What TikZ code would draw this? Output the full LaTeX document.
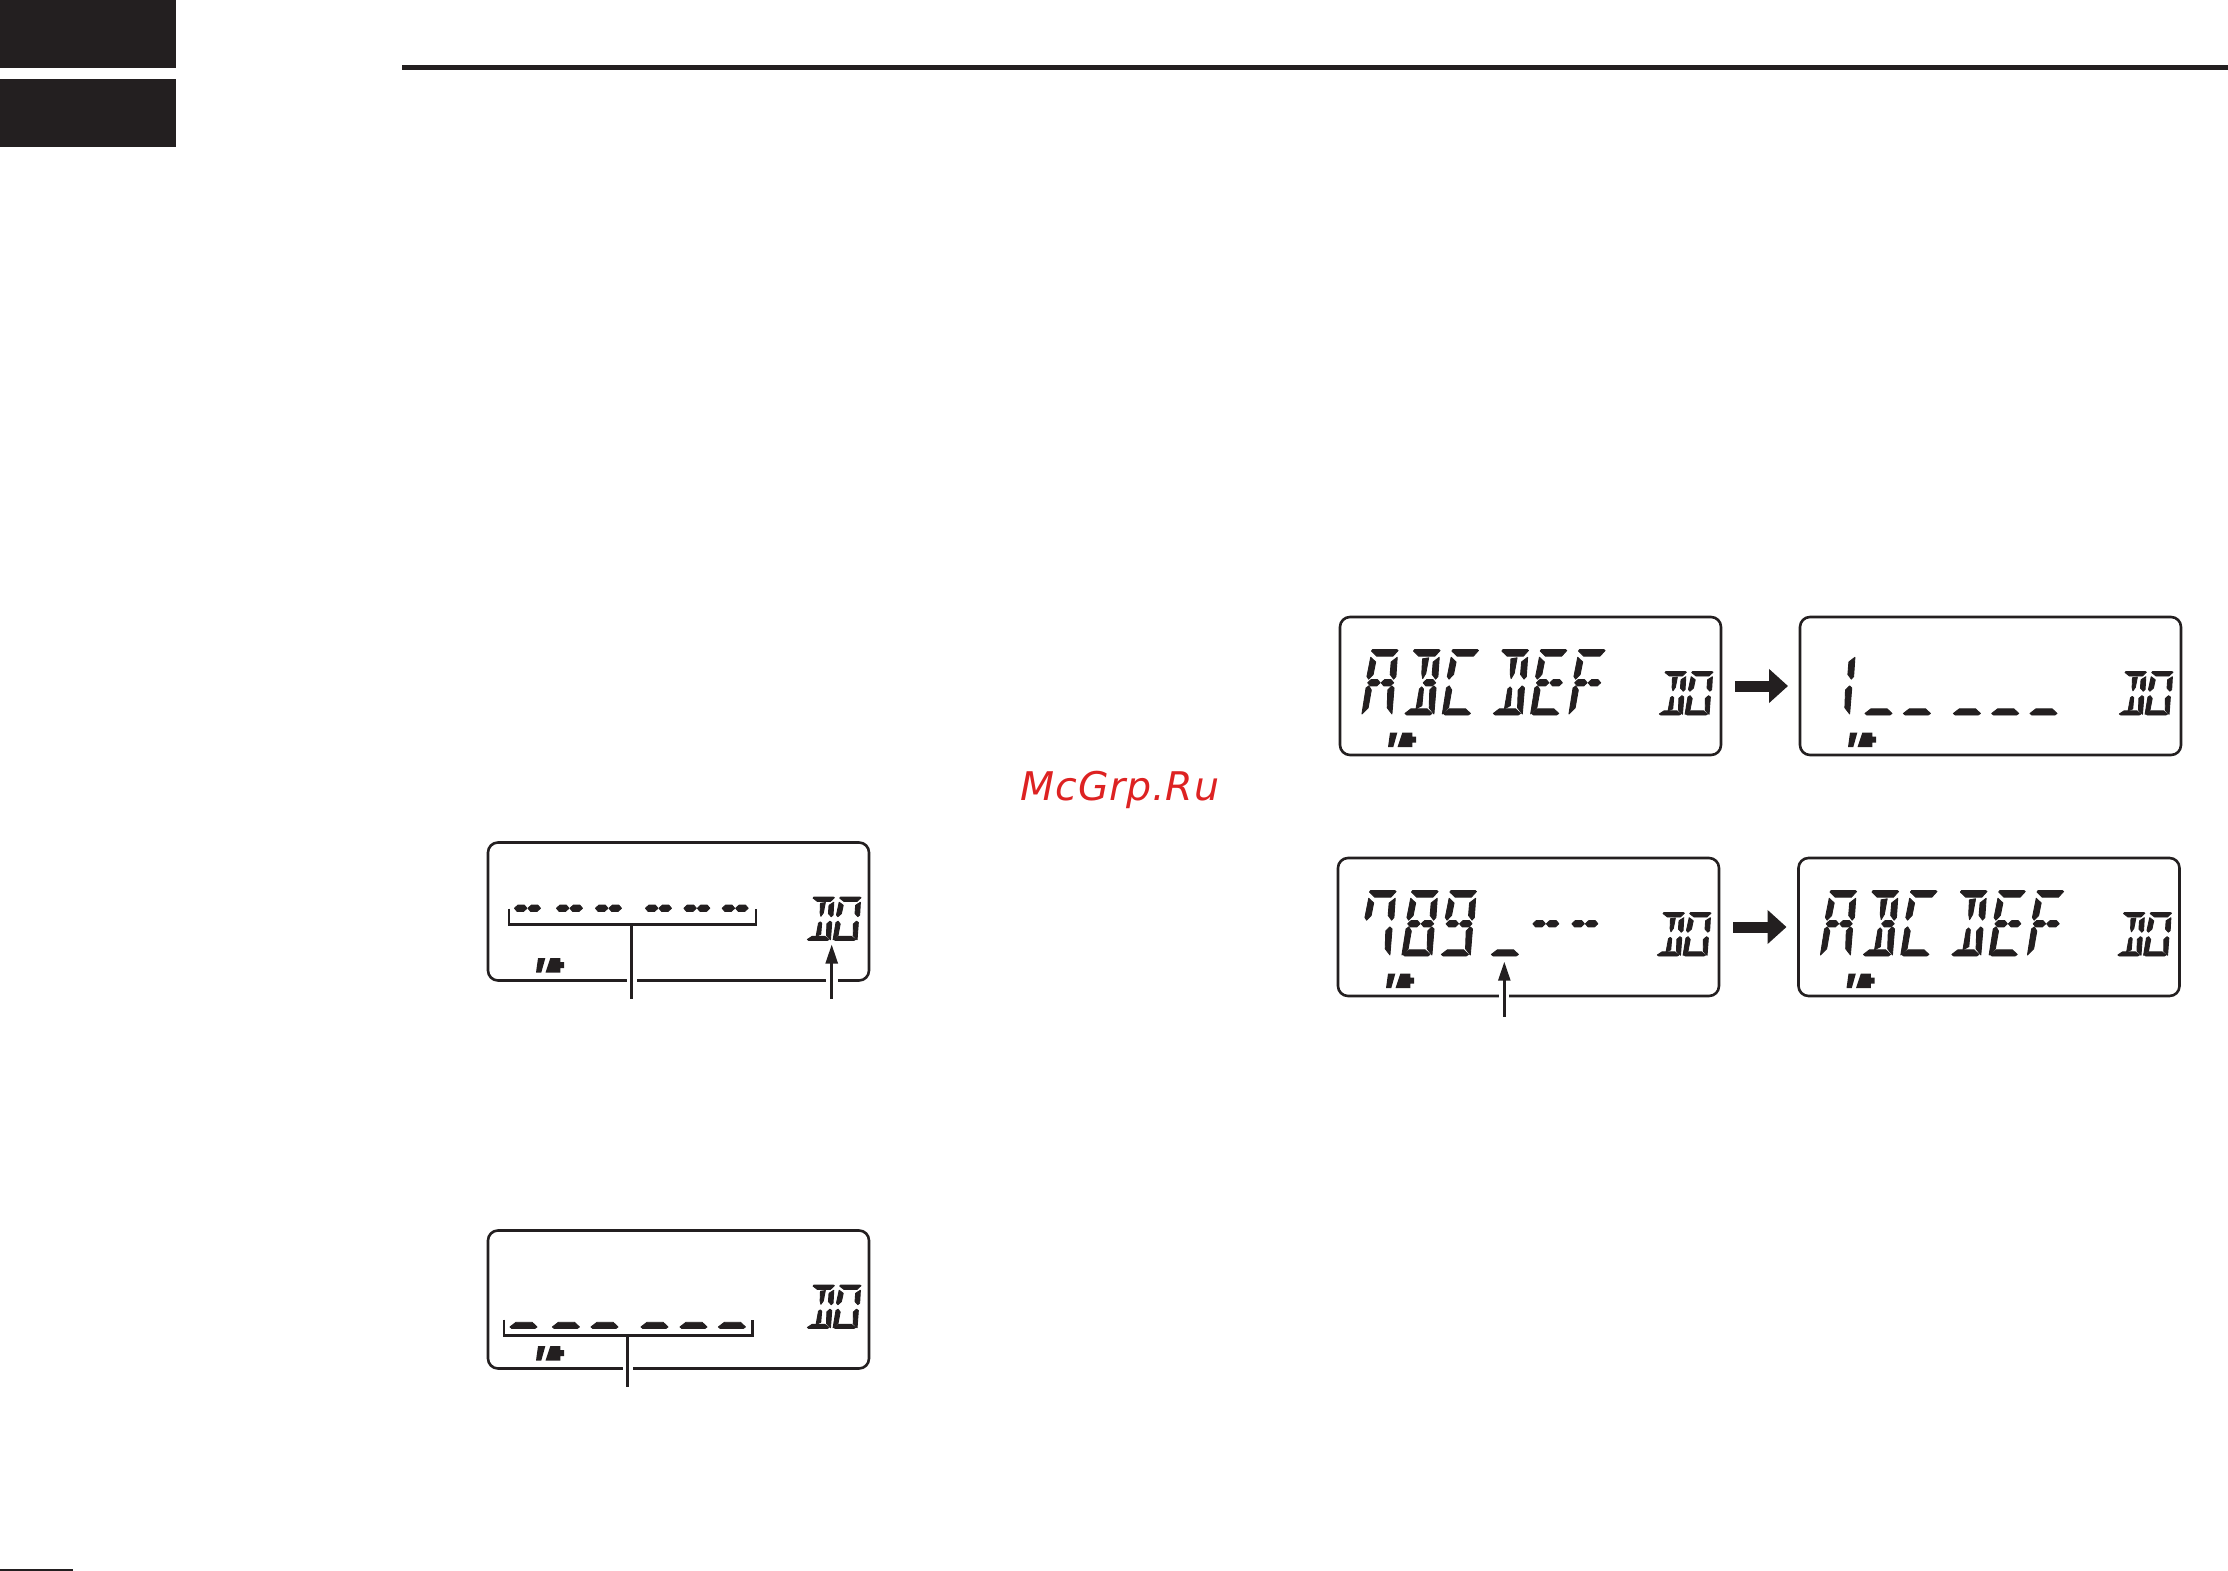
\documentclass[tikz,border=0pt]{standalone}
\usepackage{fontspec}
\usetikzlibrary{positioning,arrows.meta}
\newfontfamily\markfont{DejaVu Sans}[LetterSpace=2.0]
\definecolor{lcdink}{HTML}{231F20}
\definecolor{markred}{HTML}{DD2222}
\tikzset{
  panel/.style={draw=lcdink,line width=2.6pt,rounded corners=10pt,minimum width=381pt,minimum height=138pt,outer sep=0pt,inner sep=0pt},
  lcdbig/.style={xslant=.12,yscale=1.04},
  lcdsmall/.style={xslant=.12,xscale=.8,yscale=.69},
  leader/.style={draw=lcdink,line width=2.6pt},
  pointer/.style={leader,-{Triangle[length=19pt,width=12pt]}},
  blockarrow/.style={draw=lcdink,line width=11pt,shorten <=14pt,shorten >=12pt,-{Triangle[length=19pt,width=33pt]}},
}
% segments of one cell, y going up from the baseline
\newcommand{\lcdsega}{(3,63)--(27,63)--(28.5,62)--(24,56.5)--(8,56.5)--(2,61.5)}
\newcommand{\lcdsegb}{(28.5,55.5)--(23,51)--(23.5,39)--(27.5,34.5)--(29.5,37)}
\newcommand{\lcdsegc}{(29,26)--(26.5,28)--(23,24)--(24.5,7)--(30,1)}
\newcommand{\lcdsegd}{(1,1.5)--(3,0)--(26,0)--(28,1.5)--(22.5,6)--(6.5,6)}
\newcommand{\lcdsege}{(1,26)--(3.5,28)--(6.5,24)--(5.5,7)--(0,1)}
\newcommand{\lcdsegf}{(2,55.5)--(7.5,51)--(6.5,39)--(2.5,34.5)--(.5,37)}
\newcommand{\lcdsegg}{(2,31)--(5,28)--(11.5,28)--(14.5,31)--(11.5,34)--(5,34)}
\newcommand{\lcdsegh}{(15.5,31)--(18.5,28)--(25,28)--(28,31)--(25,34)--(18.5,34)}
\newcommand{\lcdsegi}{(12,54)--(18,55)--(17,40)--(14.5,35)--(13,40)}
\newcommand{\lcdsegj}{(12.5,25)--(14.5,27)--(16.5,25)--(17,9)--(11.5,6)}
\newcommand{\lcdglyph}[2]{\expandafter\def\csname glyph#1\endcsname{#2}}
\lcdglyph{A}{a,b,c,e,f,g,h}
\lcdglyph{B}{a,b,c,d,h,i,j}
\lcdglyph{C}{a,d,e,f}
\lcdglyph{D}{a,b,c,d,i,j}
\lcdglyph{E}{a,d,e,f,g,h}
\lcdglyph{F}{a,e,f,g,h}
\lcdglyph{O}{a,b,c,d,e,f}
\lcdglyph{1}{b,c}
\lcdglyph{7}{a,b,c,f}
\lcdglyph{8}{a,b,c,d,e,f,g,h}
\lcdglyph{9}{a,b,c,d,f,g,h}
\lcdglyph{u}{d}
\lcdglyph{m}{g,h}
\newcommand{\lcdchar}[4][lcdbig]{%
  \begin{scope}[shift={(#2.north west)},shift={(#3,98)},x=1pt,y=1pt,#1]
    \foreach \seg in #4{%
      \expandafter\let\expandafter\segpath\csname lcdseg\seg\endcsname
      \filldraw[lcdink,line width=.9pt,line join=round] \segpath -- cycle;}
  \end{scope}}
\newcommand{\lcdword}[2]{%
  \foreach \cellx/\glyph in {#2}{%
    \edef\segs{\csname glyph\glyph\endcsname}%
    \lcdchar{#1}{\cellx}{\segs}}}
% the channel mark and the battery are on every panel
\newcommand{\lcdcommon}[1]{%
  \lcdchar[lcdsmall]{#1}{318.4}{\glyphD}
  \lcdchar[lcdsmall]{#1}{345}{\glyphO}
  \begin{scope}[shift={(#1.north west)},shift={(48,130)},x=1pt,y=1pt]
    \fill[lcdink] (2,14.3)--(9.3,14.3)--(5.3,0)--(0,0)--cycle;
    \fill[lcdink] (14.3,14.3)--(24.3,14.3)--(24.3,10.5)--(28,10.5)--(28,4.5)--(24.3,4.5)--(24.3,0)--(9.5,0)--cycle;
  \end{scope}}
\begin{document}
\begin{tikzpicture}[x=1pt,y=-1pt]
  \useasboundingbox (0,0) rectangle (2228,1571);
  \fill[lcdink] (0,0) rectangle (176,68);
  \fill[lcdink] (0,79) rectangle (176,147);
  \fill[lcdink] (402,65) rectangle (2228,70);
  \fill[lcdink] (0,1569) rectangle (73,1571);
  \node[panel] (dots) at (678.5,911.5) {};
  \node[panel,below=250pt of dots] (dash) {};
  \node[panel] (abc) at (1530.5,686) {};
  \node[panel,right=79pt of abc] (one) {};
  \node[panel] (seven) at (1528.5,927) {};
  \node[panel,right=79.5pt of seven] (abcb) {};
  \node[anchor=base,text=markred,font=\markfont\itshape\fontsize{39.5}{39.5}\selectfont] (mark) at (1120,800) {McGrp.Ru};
  \foreach \p in {dots,dash,abc,one,seven,abcb}{\lcdcommon{\p}}
  \lcdword{dots}{20.6/m,62.6/m,101.6/m,151.6/m,190/m,228.3/m}
  \lcdword{dash}{20.8/u,63.2/u,101.8/u,151.8/u,190.8/u,229.2/u}
  \lcdword{abc}{21.8/A,63.8/B,102.2/C,152.2/D,190.5/E,228.8/F}
  \lcdword{one}{19.5/1,63.8/u,102.2/u,152.2/u,190.5/u,228.8/u}
  \lcdword{seven}{21.8/7,63.8/8,102.2/9,152.2/u,189/m,228/m}
  \lcdword{abcb}{21.8/A,63.8/B,102.2/C,152.2/D,190.5/E,228.8/F}
  % brackets and leaders
  \coordinate (dotsl) at ([shift={(21,66)}]dots.north west);
  \coordinate (dotsr) at ([shift={(268,66)}]dots.north west);
  \coordinate (dotsm) at ([shift={(143.7,82)}]dots.north west);
  \coordinate (dotsend) at ([shift={(143.7,156)}]dots.north west);
  \coordinate (dotsgap) at ([shift={(143.7,0)}]dots.south west);
  \coordinate (chgap) at ([shift={(343.7,0)}]dots.south west);
  \coordinate (chtip) at ([shift={(343.7,102)}]dots.north west);
  \coordinate (chend) at ([shift={(343.7,156)}]dots.north west);
  \draw[white,line width=4pt] ([xshift=-5pt]dotsgap) -- ([xshift=5pt]dotsgap);
  \draw[white,line width=4pt] ([xshift=-6pt]chgap) -- ([xshift=6pt]chgap);
  \draw[leader] (dotsl) -- (dotsl |- dotsm) -- (dotsr |- dotsm) -- (dotsr);
  \draw[leader] (dotsm) -- (dotsend);
  \draw[pointer] (chend) -- (chtip);
  \coordinate (dashl) at ([shift={(16,89)}]dash.north west);
  \coordinate (dashr) at ([shift={(264.3,89)}]dash.north west);
  \coordinate (dashm) at ([shift={(139.7,105)}]dash.north west);
  \coordinate (dashend) at ([shift={(139.7,156.7)}]dash.north west);
  \coordinate (dashgap) at ([shift={(139.7,0)}]dash.south west);
  \draw[white,line width=4pt] ([xshift=-5pt]dashgap) -- ([xshift=5pt]dashgap);
  \draw[leader] (dashl) -- (dashl |- dashm) -- (dashr |- dashm) -- (dashr);
  \draw[leader] (dashm) -- (dashend);
  \coordinate (sevengap) at ([shift={(166.3,0)}]seven.south west);
  \coordinate (seventip) at ([shift={(166.3,103.7)}]seven.north west);
  \coordinate (sevenend) at ([shift={(166.3,158.7)}]seven.north west);
  \draw[white,line width=4pt] ([xshift=-5pt]sevengap) -- ([xshift=5pt]sevengap);
  \draw[pointer] (sevenend) -- (seventip);
  % block arrows
  \draw[blockarrow] (abc) -- (one);
  \draw[blockarrow] (seven) -- (abcb);
\end{tikzpicture}
\end{document}
